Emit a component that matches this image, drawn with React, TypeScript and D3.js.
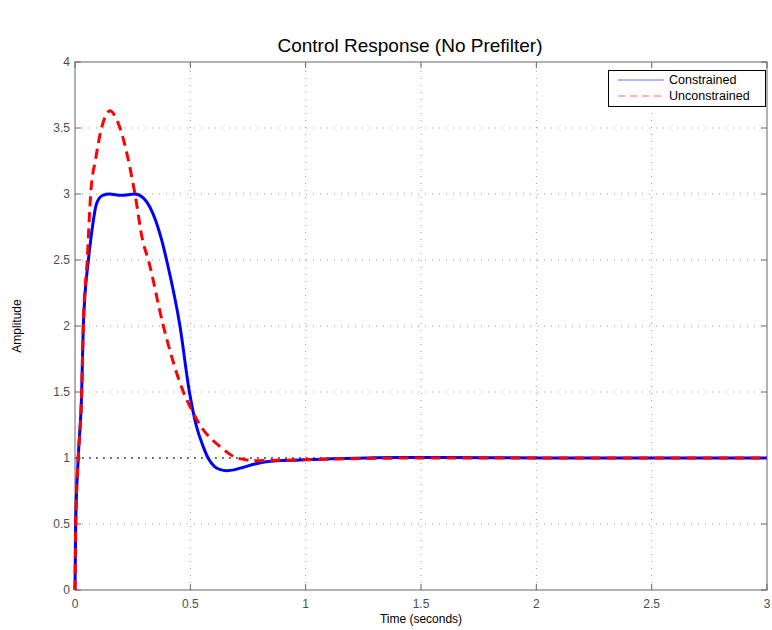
import React from "react";
import * as d3 from "d3";

const constrainedT = [0, 0.003, 0.014, 0.029, 0.036, 0.058, 0.068, 0.094, 0.12, 0.15, 0.2, 0.26, 0.296, 0.325, 0.376, 0.397, 0.455, 0.496, 0.525, 0.555, 0.58, 0.605, 0.63, 0.657, 0.69, 0.73, 0.78, 0.83, 0.975, 1.1, 1.3, 1.5, 1.8, 2.2, 2.6, 3.0];
const constrainedV = [0, 0.5, 1.0, 1.5, 2.0, 2.5, 2.65, 2.93, 2.99, 3.0, 2.99, 3.0, 2.97, 2.9, 2.65, 2.5, 2.0, 1.5, 1.25, 1.09, 0.99, 0.935, 0.912, 0.904, 0.91, 0.93, 0.955, 0.972, 0.985, 0.993, 1.002, 1.004, 1.002, 1.0, 1.0, 1.0];

const unconstrainedT = [0, 0.003, 0.014, 0.029, 0.036, 0.053, 0.068, 0.09, 0.115, 0.135, 0.152, 0.17, 0.195, 0.26, 0.293, 0.318, 0.383, 0.47, 0.513, 0.542, 0.629, 0.707, 0.787, 0.9, 1.0, 1.2, 1.5, 2.0, 2.5, 3.0];
const unconstrainedV = [0, 0.5, 1.0, 1.5, 2.0, 2.5, 3.0, 3.27, 3.5, 3.6, 3.63, 3.6, 3.5, 3.0, 2.65, 2.5, 2.0, 1.5, 1.34, 1.25, 1.086, 0.998, 0.98, 0.983, 0.988, 0.995, 1.0, 1.0, 1.0, 1.0];

const xTicks = [0, 0.5, 1, 1.5, 2, 2.5, 3];
const yTicks = [0, 0.5, 1, 1.5, 2, 2.5, 3, 3.5, 4];
const seriesNames = ["Constrained", "Unconstrained"];

export default function App() {
  const W = 772, H = 630;
  const L = 75, R = 767, T = 62, B = 590;
  const x = d3.scaleLinear().domain([0, 3]).range([L, R]);
  const y = d3.scaleLinear().domain([0, 4]).range([B, T]);
  const line = d3
    .line<[number, number]>()
    .x((d) => x(d[0]))
    .y((d) => y(d[1]))
    .curve(d3.curveMonotoneX);
  const cPts = constrainedT.map((t, i) => [t, constrainedV[i]] as [number, number]);
  const uPts = unconstrainedT.map((t, i) => [t, unconstrainedV[i]] as [number, number]);
  const font = "'Liberation Sans', Arial, Helvetica, sans-serif";
  const tickColor = "#4d4d4d";

  return (
    <div style={{ position: "absolute", left: 0, top: 0 }}>
      <svg width={W} height={H} style={{ display: "block", background: "#fff" }} fontFamily={font}>
        <rect x={0} y={0} width={W} height={H} fill="#fff" />
        {xTicks.slice(1, -1).map((t) => (
          <line key={"gx" + t} x1={x(t)} x2={x(t)} y1={B} y2={T} stroke="#999" strokeWidth={1} strokeDasharray="1 6" />
        ))}
        {yTicks.slice(1, -1).map((t) => (
          <line key={"gy" + t} x1={L} x2={R} y1={y(t)} y2={y(t)} stroke="#999" strokeWidth={1} strokeDasharray="1 6" />
        ))}
        <line x1={L} x2={R} y1={y(1)} y2={y(1)} stroke="#000" strokeWidth={1} strokeDasharray="2 5" />
        <rect x={L} y={T} width={R - L} height={B - T} fill="none" stroke="#666" strokeWidth={1} />
        {xTicks.map((t) => (
          <g key={"xt" + t}>
            <line x1={x(t)} x2={x(t)} y1={B} y2={B - 6} stroke="#666" />
            <line x1={x(t)} x2={x(t)} y1={T} y2={T + 6} stroke="#666" />
            <text x={x(t)} y={B + 18} textAnchor="middle" fontSize={12} fill={tickColor}>
              {d3.format("")(t)}
            </text>
          </g>
        ))}
        {yTicks.map((t) => (
          <g key={"yt" + t}>
            <line x1={L} x2={L + 6} y1={y(t)} y2={y(t)} stroke="#666" />
            <line x1={R} x2={R - 6} y1={y(t)} y2={y(t)} stroke="#666" />
            <text x={L - 5} y={y(t) + 4} textAnchor="end" fontSize={12} fill={tickColor}>
              {d3.format("")(t)}
            </text>
          </g>
        ))}
        <path d={line(cPts) || ""} fill="none" stroke="#0000ff" strokeWidth={3} strokeLinejoin="round" />
        <path d={line(uPts) || ""} fill="none" stroke="#ff0000" strokeWidth={3} strokeDasharray="10 6" />
        <text x={410} y={52} textAnchor="middle" fontSize={19} fill="#000">
          Control Response (No Prefilter)
        </text>
        <text x={(L + R) / 2} y={623} textAnchor="middle" fontSize={12} fill="#000">
          Time (seconds)
        </text>
        <text transform={`translate(21, ${(T + B) / 2}) rotate(-90)`} textAnchor="middle" fontSize={12} fill="#000">
          Amplitude
        </text>
        <g>
          <rect x={608.5} y={70.5} width={157} height={36} fill="#fff" stroke="#000" strokeWidth={1} />
          <line x1={618} x2={664} y1={80} y2={80} stroke="#6666ff" strokeWidth={1.2} />
          <text x={669} y={84} fontSize={12.5} fill="#000">{seriesNames[0]}</text>
          <line x1={618} x2={664} y1={96} y2={96} stroke="#ff6666" strokeWidth={1.2} strokeDasharray="7 5" />
          <text x={669} y={100} fontSize={12.5} fill="#000">{seriesNames[1]}</text>
        </g>
      </svg>
    </div>
  );
}
